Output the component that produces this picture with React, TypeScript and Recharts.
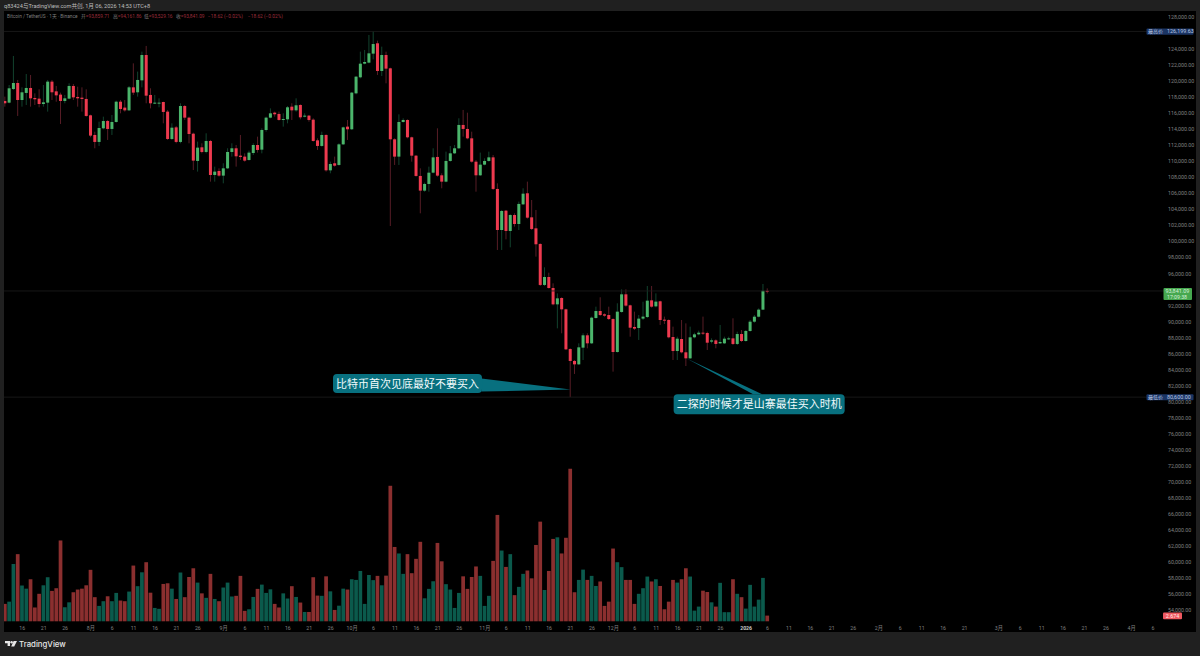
import { Bar, ComposedChart, ReferenceDot, ReferenceLine, XAxis, YAxis } from 'recharts';

const opens = [
  117530, 117320, 119020, 119770, 117650, 118530, 119150, 117900, 117820, 117150,
  117320, 119940, 118730, 118320, 117530, 117820, 119400, 118030, 117940, 117780,
  115740, 113290, 112420, 114120, 115030, 114040, 114910, 117440, 116700, 116360,
  119230, 118610, 120100, 123260, 118280, 117200, 117200, 117400, 116200, 112790,
  114240, 112420, 116900, 115450, 113450, 110050, 111750, 111170, 112540, 108300,
  108800, 108220, 109130, 111170, 111630, 110710, 110590, 110170, 111040, 112040,
  111460, 113910, 115450, 116070, 115910, 115160, 115240, 116820, 116360, 117030,
  115570, 115700, 115200, 112620, 111920, 113290, 108880, 109760, 109550, 112120,
  114330, 114000, 118480, 120480, 122180, 122310, 123430, 124720, 121270, 123260,
  121600, 112750, 110590, 114910, 115160, 113000, 110710, 108180, 106350, 107180,
  108590, 110550, 108260, 107470, 110050, 111000, 111630, 114540, 114040, 112870,
  109960, 108260, 109590, 110050, 110500, 106560, 101440, 103850, 101320, 103310,
  102190, 104640, 106020, 103020, 101650, 99700, 94590, 95580, 94210, 92170,
  92960, 91550, 86600, 85110, 84690, 86770, 88310, 87310, 90470, 91340,
  90930, 90840, 90340, 86230, 91220, 93420, 92050, 89350, 89220, 90390,
  90590, 92670, 91920, 92550, 90260, 90220, 88100, 86350, 87850, 86190,
  85440, 88060, 88430, 88640, 88600, 87520, 87680, 87310, 87310, 87850,
  87930, 87230, 88470, 87600, 88850, 90010, 90630, 91510, 93859.71,
];

const closes = [
  117240, 119110, 119770, 117650, 118610, 119150, 117860, 117740, 117150, 117360,
  119940, 118610, 118230, 117530, 117860, 119400, 117980, 117860, 117780, 115660,
  113210, 112420, 114160, 115030, 114040, 114910, 117440, 116530, 116360, 119230,
  118570, 120150, 123260, 118190, 117240, 117320, 117320, 116160, 112790, 114200,
  112420, 116900, 115450, 113410, 110090, 111710, 111170, 112540, 108300, 108720,
  108220, 109130, 111170, 111630, 110630, 110550, 110090, 111090, 112040, 111420,
  113910, 115450, 115990, 115870, 115160, 115280, 116740, 116360, 116990, 115490,
  115700, 115160, 112540, 111920, 113290, 108880, 109670, 109460, 112120, 114240,
  114000, 118570, 120560, 122180, 122390, 123470, 124630, 121270, 123260, 121560,
  112750, 110590, 114910, 115160, 113000, 110710, 108180, 106350, 107180, 108590,
  110500, 108220, 107470, 110050, 111000, 111630, 114540, 114040, 112870, 109960,
  108260, 109590, 110050, 110500, 106560, 101440, 103810, 101320, 103310, 102190,
  104690, 105970, 102980, 101570, 99660, 94590, 95580, 94210, 92170, 92920,
  91550, 86560, 85110, 84690, 86810, 88310, 87310, 90510, 91340, 90840,
  90760, 90340, 86230, 91260, 93420, 92010, 89260, 89140, 90390, 90640,
  92630, 91880, 92510, 90220, 90180, 88060, 86350, 87890, 86190, 85440,
  88060, 88430, 88640, 88560, 87390, 87680, 87230, 87480, 87890, 87930,
  87230, 88470, 87600, 88850, 90010, 90630, 91510, 93860, 93841.09,
];

const highs = [
  118070, 119520, 123140, 120150, 119230, 120890, 120770, 118480, 118980, 119520,
  120150, 120150, 119400, 118570, 118280, 119730, 119650, 119310, 119230, 118980,
  115820, 113700, 114950, 115570, 115160, 115780, 117570, 117650, 117650, 119400,
  122220, 121190, 123680, 124390, 119110, 118280, 117860, 117440, 116410, 114740,
  114410, 117240, 117030, 115570, 113580, 112460, 112250, 113500, 112670, 109340,
  109130, 109760, 111630, 112250, 112040, 113290, 111000, 111340, 112250, 113080,
  114120, 115570, 116610, 116200, 116200, 115990, 116900, 117240, 117860, 117110,
  115990, 115780, 115370, 112870, 113700, 113370, 109960, 110590, 112250, 114330,
  115160, 118650, 120640, 123680, 123890, 125760, 126199.63, 125050, 124300, 123680,
  121680, 112870, 115860, 115370, 115240, 113080, 110790, 109130, 107350, 109340,
  111630, 114120, 108510, 111210, 111920, 112040, 115370, 116410, 116070, 113700,
  110170, 111090, 110380, 111210, 110790, 107260, 103940, 103940, 103400, 103520,
  104980, 106640, 107470, 105180, 103940, 99780, 96790, 96120, 94790, 93540,
  93050, 91630, 86690, 85230, 87310, 88560, 88560, 90640, 91880, 93050,
  91050, 91880, 90430, 92300, 94040, 94040, 92130, 91260, 90840, 92500,
  94460, 94460, 93540, 92630, 90640, 90300, 89390, 88140, 90220, 89800,
  89390, 88640, 88890, 90640, 88760, 87930, 87810, 89600, 88140, 88140,
  90430, 88760, 88970, 88970, 90220, 90840, 91670, 94710, 94161.86,
];

const lows = [
  116820, 117240, 118900, 115660, 116820, 117030, 116820, 117030, 116740, 116820,
  116200, 117650, 117440, 114660, 117240, 117740, 117650, 116820, 116200, 115570,
  113000, 111630, 111920, 114000, 112670, 113290, 114830, 115990, 116200, 116280,
  118280, 118070, 119230, 117240, 116610, 117150, 116740, 114740, 112670, 112670,
  112250, 112250, 115160, 112250, 108920, 108720, 111000, 111000, 107470, 107470,
  108090, 107260, 109050, 110590, 109340, 110170, 109960, 110090, 110790, 111090,
  111000, 113700, 115370, 115570, 115080, 114330, 114740, 115160, 116200, 115240,
  115490, 114950, 112460, 111420, 111830, 108720, 108510, 109340, 109460, 112040,
  112670, 113910, 118360, 120350, 122100, 122220, 122720, 120770, 120640, 119730,
  101940, 109550, 109550, 114830, 112870, 109960, 108090, 103520, 106220, 106220,
  108510, 108090, 106640, 107390, 109960, 110920, 111540, 113080, 112750, 109840,
  106220, 108180, 109510, 109960, 106430, 98950, 98950, 100280, 99280, 101860,
  101440, 104560, 102860, 101440, 98120, 94460, 94460, 94130, 92050, 89180,
  88560, 86480, 80600, 83490, 84610, 85230, 86690, 87230, 90390, 90720,
  90630, 90220, 83780, 86150, 91130, 91880, 88140, 88970, 87730, 90220,
  90470, 91760, 91800, 89600, 89720, 87930, 85230, 85230, 86060, 84480,
  85360, 87930, 88310, 88350, 86480, 87310, 86690, 87230, 87230, 87730,
  87100, 87100, 87470, 87520, 88760, 89880, 90550, 91460, 93529.16,
];

// thousands of BTC
const volumes = [
  7.9, 8.9, 25.7, 30.1, 16.1, 14.7, 18.9, 6.3, 12.4, 16.2,
  19.8, 13.7, 14.9, 36.2, 6.4, 8.6, 13.1, 14.3, 14.7, 16.2,
  23.1, 10.9, 7.0, 9.1, 11.3, 9.1, 12.8, 9.4, 9.1, 13.4,
  25.0, 15.8, 22.0, 26.5, 12.9, 6.1, 5.7, 16.8, 17.1, 14.7,
  10.1, 21.9, 10.9, 19.9, 23.8, 17.4, 12.6, 10.6, 21.3, 10.1,
  9.1, 15.2, 17.4, 11.2, 11.5, 20.4, 4.8, 5.5, 11.0, 14.6,
  16.5, 12.8, 14.4, 7.9, 6.3, 12.6, 10.3, 15.8, 11.0, 8.5,
  4.3, 4.3, 19.8, 11.6, 11.5, 20.2, 13.5, 5.2, 7.1, 14.7,
  14.3, 18.9, 18.6, 22.6, 7.9, 20.8, 18.5, 20.4, 16.2, 20.5,
  60.6, 33.3, 30.4, 21.3, 30.1, 21.6, 28.0, 35.6, 10.4, 14.6,
  18.0, 35.1, 26.9, 16.7, 14.3, 6.1, 12.8, 20.2, 14.6, 19.9,
  24.6, 20.4, 7.0, 11.5, 27.1, 47.6, 31.7, 24.4, 30.1, 11.8,
  15.5, 21.3, 22.8, 19.3, 34.2, 44.6, 14.1, 22.6, 36.9, 37.6,
  30.4, 37.4, 68.2, 13.1, 18.6, 23.2, 18.6, 20.4, 15.9, 17.9,
  7.0, 8.9, 32.6, 26.5, 24.3, 18.6, 18.6, 7.9, 12.4, 14.9,
  20.1, 17.9, 18.9, 15.9, 5.5, 8.9, 18.6, 17.4, 18.9, 23.8,
  20.1, 4.9, 6.7, 13.8, 13.2, 8.6, 6.7, 17.3, 4.2, 4.2,
  18.9, 12.4, 10.9, 5.8, 16.4, 6.7, 9.8, 19.5, 2.674,
];

// month, first day shown, last day shown
const monthRuns: [string, number, number][] = [
  ['2025-07', 12, 31],
  ['2025-08', 1, 31],
  ['2025-09', 1, 30],
  ['2025-10', 1, 31],
  ['2025-11', 1, 30],
  ['2025-12', 1, 31],
  ['2026-01', 1, 31],
  ['2026-02', 1, 28],
  ['2026-03', 1, 31],
  ['2026-04', 1, 9],
];

const tickDates = [
  '2025-07-16', '2025-07-21', '2025-07-26', '2025-08-01', '2025-08-06', '2025-08-11', '2025-08-16', '2025-08-21', '2025-08-26',
  '2025-09-01', '2025-09-06', '2025-09-11', '2025-09-16', '2025-09-21', '2025-09-26',
  '2025-10-01', '2025-10-06', '2025-10-11', '2025-10-16', '2025-10-21', '2025-10-26',
  '2025-11-01', '2025-11-06', '2025-11-11', '2025-11-16', '2025-11-21', '2025-11-26',
  '2025-12-01', '2025-12-06', '2025-12-11', '2025-12-16', '2025-12-21', '2025-12-26',
  '2026-01-01', '2026-01-06', '2026-01-11', '2026-01-16', '2026-01-21', '2026-01-26',
  '2026-02-01', '2026-02-06', '2026-02-11', '2026-02-16', '2026-02-21',
  '2026-03-01', '2026-03-06', '2026-03-11', '2026-03-16', '2026-03-21', '2026-03-26',
  '2026-04-01', '2026-04-06',
];

const tickLabels = [
  '16', '21', '26', '8月', '6', '11', '16', '21', '26',
  '9月', '6', '11', '16', '21', '26',
  '10月', '6', '11', '16', '21', '26',
  '11月', '6', '11', '16', '21', '26',
  '12月', '6', '11', '16', '21', '26',
  '2026', '6', '11', '16', '21', '26',
  '2月', '6', '11', '16', '21',
  '3月', '6', '11', '16', '21', '26',
  '4月', '6',
];

const priceTicks = [
  128000, 124000, 122000, 120000, 118000, 116000, 114000, 112000, 110000, 108000, 106000, 104000, 102000,
  100000, 98000, 96000, 92000, 90000, 88000, 86000, 84000, 82000, 80000, 78000, 76000, 74000, 72000, 70000,
  68000, 66000, 64000, 62000, 60000, 58000, 56000, 54000,
];

const allTimeHigh = 126199.63;
const periodLow = 80600;
const lastPrice = 93841.09;
const lastVolume = 2.674;

const firstCall = { text: '比特币首次见底最好不要买入', day: 132, price: 81550 };
const secondCall = { text: '二探的时候才是山寨最佳买入时机', day: 159, price: 85440 };

const dates: string[] = [];
monthRuns.forEach(([month, from, to]) => {
  for (let d = from; d <= to; d++) dates.push(`${month}-${String(d).padStart(2, '0')}`);
});

const data = dates.map((date, i) => ({
  date,
  open: opens[i],
  high: highs[i],
  low: lows[i],
  close: closes[i],
  volume: volumes[i],
}));

const UP = '#4bb56b';
const DOWN = '#ee3a4f';
const UP_WICK = '#17543a';
const DOWN_WICK = '#6f2430';
const UP_VOL = '#0b5a4c';
const DOWN_VOL = '#8b2f2f';
const TEAL = '#08707f';
const AXIS_TEXT = '#808080';
const GUIDE = '#1d1d1d';
const FONT = 'Roboto, "Noto Sans CJK SC", sans-serif';

const fmt = (v: number) => v.toLocaleString('en-US', { minimumFractionDigits: 2, maximumFractionDigits: 2 });

function Candle(props: any) {
  const { x, y, width, height, payload } = props;
  if (payload.open == null || !Number.isFinite(y)) return null;
  const h = Math.abs(height);
  const top = height < 0 ? y + height : y;
  const perUnit = h / (payload.high - payload.low);
  const down = payload.close < payload.open;
  const cx = x + width / 2;
  const bodyTop = top + (payload.high - Math.max(payload.open, payload.close)) * perUnit;
  const bodyH = Math.max(Math.abs(payload.open - payload.close) * perUnit, 1);
  return (
    <g>
      <line x1={cx} x2={cx} y1={top} y2={top + h} stroke={down ? DOWN_WICK : UP_WICK} strokeWidth={0.8} />
      <rect x={cx - 1.5} y={bodyTop} width={3} height={bodyH} fill={down ? DOWN : UP} />
    </g>
  );
}

function VolumeBar(props: any) {
  const { x, y, width, height, payload } = props;
  if (payload.open == null || !Number.isFinite(y)) return null;
  return <rect x={x} y={y} width={width} height={height} fill={payload.close < payload.open ? DOWN_VOL : UP_VOL} />;
}

function DateTick(props: any) {
  const { x, y, payload } = props;
  const label = tickLabels[tickDates.indexOf(payload.value)];
  return (
    <text x={x} y={y + 8} textAnchor="middle" fontSize={5.2} fontFamily={FONT} fill={label === '2026' ? '#c8c8c8' : AXIS_TEXT} fontWeight={label === '2026' ? 700 : 400}>
      {label}
    </text>
  );
}

function NamedTag(props: any) {
  const { viewBox, name, value } = props;
  const right = viewBox.x + viewBox.width;
  return (
    <g>
      <rect x={right - 21.5} y={viewBox.y - 3} width={47} height={6.2} rx={1} fill="#1b3564" />
      <text x={right - 20} y={viewBox.y + 1.9} fontSize={5} fontFamily={FONT} fill="#b9c6e2">{name}</text>
      <text x={right - 1} y={viewBox.y + 1.9} fontSize={5.4} fontFamily={FONT} fill="#b9c6e2">{value}</text>
    </g>
  );
}

function LastTag(props: any) {
  const { viewBox } = props;
  const right = viewBox.x + viewBox.width;
  return (
    <g>
      <rect x={right - 4.5} y={viewBox.y - 3} width={28.5} height={12} rx={1} fill="#46a84f" />
      <text x={right - 2.5} y={viewBox.y + 2} fontSize={5.4} fontFamily={FONT} fill="#d8f0da">{fmt(lastPrice)}</text>
      <text x={right - 1} y={viewBox.y + 7.6} fontSize={5.2} fontFamily={FONT} fill="#d8f0da">17:09:38</text>
    </g>
  );
}

function VolumeTag(props: any) {
  const { viewBox } = props;
  const right = viewBox.x + viewBox.width;
  return (
    <g>
      <rect x={right - 5} y={viewBox.y - 3} width={19} height={6.6} rx={1} fill="#ee5860" />
      <text x={right + 4.5} y={viewBox.y + 2} textAnchor="middle" fontSize={5.4} fontFamily={FONT} fill="#ffe9e9">{lastVolume.toFixed(3)}</text>
    </g>
  );
}

function FirstCallout(props: any) {
  const { cx, cy } = props;
  return (
    <g>
      <polygon points={`${cx},${cy} ${cx - 89},${cy - 11} ${cx - 89},${cy + 2}`} fill={TEAL} />
      <rect x={cx - 237.5} y={cy - 15.5} width={149} height={19} rx={4} fill={TEAL} />
      <text x={cx - 163} y={cy - 2} textAnchor="middle" fontSize={11} fontFamily='"Noto Sans CJK SC"' fill="#f2fbfc">{firstCall.text}</text>
    </g>
  );
}

function SecondCallout(props: any) {
  const { cx, cy } = props;
  return (
    <g>
      <polygon points={`${cx},${cy} ${cx + 67},${cy + 36} ${cx + 76},${cy + 36}`} fill={TEAL} />
      <rect x={cx - 12.5} y={cy + 36} width={171} height={20} rx={4} fill={TEAL} />
      <text x={cx + 73} y={cy + 50} textAnchor="middle" fontSize={11} fontFamily='"Noto Sans CJK SC"' fill="#f2fbfc">{secondCall.text}</text>
    </g>
  );
}

const legendRed = '#9c2c3a';
const legendItems: [string, string, number][] = [
  ['开', '93,859.71', 81],
  ['高', '94,161.86', 113],
  ['低', '93,529.16', 144],
  ['收', '93,841.09', 176],
];

export default function App() {
  return (
    <div style={{ position: 'absolute', left: 0, top: 0, width: 1200, height: 656, background: '#202020', overflow: 'hidden', fontFamily: FONT }}>
      <div style={{ position: 'absolute', left: 4, top: 11, width: 1192, height: 621, background: '#000' }} />

      <div style={{ position: 'absolute', left: 0, top: 0 }}>
        <ComposedChart width={1200} height={656} data={data} margin={{ top: 12, right: 0, bottom: 0, left: 3 }}>
          <XAxis
            xAxisId="candle"
            dataKey="date"
            height={34.4}
            ticks={tickDates}
            interval={0}
            axisLine={false}
            tickLine={false}
            tickSize={0}
            tickMargin={0}
            tick={<DateTick />}
          />
          <XAxis xAxisId="vol" dataKey="date" hide />
          <YAxis
            yAxisId="price"
            orientation="right"
            width={32}
            domain={[52613, 128623]}
            ticks={priceTicks}
            interval={0}
            allowDataOverflow
            axisLine={false}
            tickLine={false}
            tickSize={0}
            tickMargin={0}
            tick={{ fontSize: 5.3, fill: AXIS_TEXT, fontFamily: FONT }}
            tickFormatter={fmt}
          />
          <YAxis yAxisId="volume" domain={[0, 272]} hide allowDataOverflow />

          <ReferenceLine xAxisId="candle" yAxisId="price" y={allTimeHigh} stroke={GUIDE} strokeWidth={0.8} label={<NamedTag name="最高价" value={fmt(allTimeHigh)} />} />
          <ReferenceLine xAxisId="candle" yAxisId="price" y={lastPrice} stroke={GUIDE} strokeWidth={0.8} label={<LastTag />} />
          <ReferenceLine xAxisId="candle" yAxisId="price" y={periodLow} stroke={GUIDE} strokeWidth={0.8} label={<NamedTag name="最低价" value={fmt(periodLow)} />} />
          <ReferenceLine xAxisId="vol" yAxisId="volume" y={lastVolume} stroke="none" label={<VolumeTag />} />

          <Bar xAxisId="vol" yAxisId="volume" dataKey="volume" barSize={3.7} isAnimationActive={false} shape={VolumeBar} />
          <Bar xAxisId="candle" yAxisId="price" dataKey={(d: any) => (d.open == null ? null : [d.low, d.high])} barSize={3.7} isAnimationActive={false} shape={Candle} />

          <ReferenceDot xAxisId="candle" yAxisId="price" x={dates[firstCall.day]} y={firstCall.price} r={0} shape={FirstCallout} />
          <ReferenceDot xAxisId="candle" yAxisId="price" x={dates[secondCall.day]} y={secondCall.price} r={0} shape={SecondCallout} />
        </ComposedChart>
      </div>

      <div style={{ position: 'absolute', left: 0, top: 0, width: 4, height: 656, background: '#202020' }} />

      <div style={{ position: 'absolute', left: 4, top: 3, fontSize: 5.6, lineHeight: '7px', color: '#bdbdbd', whiteSpace: 'nowrap' }}>
        q83424与TradingView.com共创, 1月 06, 2026 14:53 UTC+8
      </div>

      <div style={{ position: 'absolute', left: 7, top: 13, fontSize: 4.8, lineHeight: '7px', color: '#7d7d7d', whiteSpace: 'nowrap' }}>
        Bitcoin / TetherUS · 1天 · Binance
      </div>
      {legendItems.map(([name, value, left]) => (
        <div key={name} style={{ position: 'absolute', left, top: 13, fontSize: 4.8, lineHeight: '7px', color: '#7d7d7d', whiteSpace: 'nowrap' }}>
          {name}<span style={{ color: legendRed }}>={value}</span>
        </div>
      ))}
      <div style={{ position: 'absolute', left: 208, top: 13, fontSize: 4.8, lineHeight: '7px', color: legendRed, whiteSpace: 'nowrap' }}>−18.62 (−0.02%)</div>
      <div style={{ position: 'absolute', left: 248, top: 13, fontSize: 4.8, lineHeight: '7px', color: legendRed, whiteSpace: 'nowrap' }}>−18.62 (−0.02%)</div>

      <svg width={12} height={8} style={{ position: 'absolute', left: 5, top: 640 }}>
        <path d="M0 1h5v5H2.6V3.2H0z M8.6 1 H12 L9.2 6.6 H6.2z" fill="#e6e6e6" />
        <circle cx={6.6} cy={2.2} r={1.2} fill="#e6e6e6" />
      </svg>
      <div style={{ position: 'absolute', left: 19, top: 638, fontSize: 7.8, lineHeight: '12px', color: '#e6e6e6', fontFamily: 'Inter, Roboto, sans-serif', fontWeight: 500, whiteSpace: 'nowrap' }}>
        TradingView
      </div>
    </div>
  );
}
